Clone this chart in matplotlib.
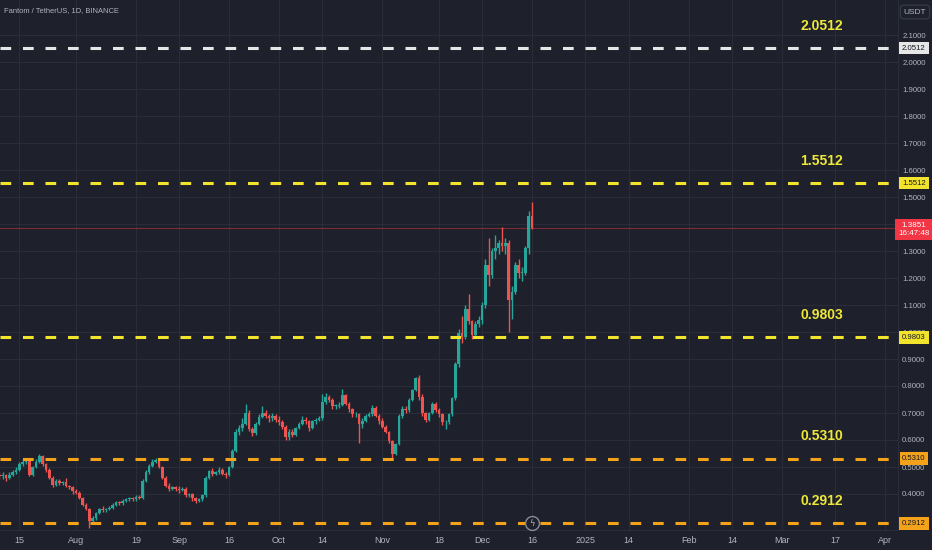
import matplotlib
matplotlib.use('Agg')
import matplotlib.pyplot as plt
import matplotlib.dates as mdates
import matplotlib.transforms as mtransforms
import numpy as np
from datetime import date, timedelta

# daily FTM/USDT candles, 9 Jul 2024 .. 16 Dec 2024
first_day = date(2024, 7, 9)

opens = [
    0.47, 0.465, 0.47, 0.46, 0.47, 0.48, 0.49, 0.51, 0.52, 0.525, 0.47, 0.50, 0.52, 0.54, 0.51, 0.49, 0.46, 0.435, 0.45, 0.44, 0.445, 0.43, 0.425,
    0.41, 0.405, 0.385, 0.36, 0.345, 0.30, 0.31, 0.33, 0.345, 0.34, 0.345, 0.35, 0.36, 0.37, 0.365, 0.375, 0.38, 0.385, 0.38, 0.39, 0.385, 0.45, 0.48, 0.505, 0.52, 0.525, 0.50, 0.46, 0.43, 0.42, 0.425,
    0.42, 0.415, 0.42, 0.395, 0.40, 0.385, 0.375, 0.38, 0.395, 0.46, 0.485, 0.475, 0.48, 0.49, 0.475, 0.47, 0.50, 0.56, 0.63, 0.645, 0.66, 0.70, 0.64, 0.625, 0.66, 0.685, 0.70, 0.69, 0.68, 0.69,
    0.675, 0.665, 0.65, 0.61, 0.63, 0.62, 0.645, 0.66, 0.675, 0.67, 0.645, 0.67, 0.675, 0.68, 0.74, 0.76, 0.75, 0.725, 0.725, 0.73, 0.765, 0.735, 0.715, 0.695, 0.695, 0.66, 0.67, 0.69, 0.695, 0.72, 0.69,
    0.67, 0.65, 0.63, 0.595, 0.55, 0.585, 0.69, 0.715, 0.71, 0.75, 0.785, 0.83, 0.76, 0.70, 0.675, 0.70, 0.735, 0.71, 0.695, 0.665, 0.665, 0.695, 0.755, 0.88, 0.995, 0.98, 1.085, 1.04, 0.99, 1.03,
    1.045, 1.10, 1.25, 1.21, 1.30, 1.31, 1.33, 1.32, 1.33, 1.12, 1.15, 1.25, 1.22, 1.22, 1.31, 1.43,
]
highs = [
    0.48, 0.48, 0.475, 0.48, 0.49, 0.50, 0.52, 0.53, 0.535, 0.53, 0.505, 0.53, 0.55, 0.545, 0.515, 0.495, 0.465, 0.455, 0.455, 0.45, 0.46, 0.435, 0.43,
    0.42, 0.41, 0.39, 0.365, 0.35, 0.32, 0.335, 0.35, 0.355, 0.35, 0.355, 0.365, 0.375, 0.375, 0.38, 0.385, 0.39, 0.39, 0.395, 0.395, 0.455, 0.49, 0.51, 0.53, 0.535, 0.53, 0.505, 0.465, 0.44, 0.43, 0.43,
    0.43, 0.425, 0.425, 0.405, 0.405, 0.39, 0.385, 0.40, 0.465, 0.49, 0.495, 0.485, 0.50, 0.495, 0.48, 0.505, 0.565, 0.64, 0.655, 0.68, 0.735, 0.71, 0.65, 0.665, 0.695, 0.725, 0.71, 0.695, 0.70, 0.695,
    0.69, 0.675, 0.655, 0.64, 0.64, 0.65, 0.665, 0.69, 0.685, 0.675, 0.675, 0.68, 0.69, 0.77, 0.775, 0.765, 0.755, 0.735, 0.74, 0.79, 0.77, 0.74, 0.72, 0.705, 0.70, 0.68, 0.695, 0.705, 0.73, 0.725, 0.695,
    0.68, 0.655, 0.635, 0.60, 0.59, 0.695, 0.725, 0.725, 0.755, 0.79, 0.835, 0.84, 0.77, 0.705, 0.705, 0.74, 0.74, 0.72, 0.70, 0.675, 0.70, 0.76, 0.89, 1.01, 1.06, 1.10, 1.14, 1.045, 1.04, 1.06,
    1.11, 1.27, 1.35, 1.31, 1.36, 1.34, 1.39, 1.35, 1.34, 1.17, 1.26, 1.27, 1.24, 1.32, 1.45, 1.48,
]
lows = [
    0.455, 0.455, 0.45, 0.455, 0.465, 0.475, 0.485, 0.505, 0.51, 0.465, 0.465, 0.495, 0.515, 0.505, 0.48, 0.455, 0.425, 0.43, 0.435, 0.435, 0.425, 0.42, 0.40,
    0.40, 0.38, 0.355, 0.34, 0.274, 0.29, 0.305, 0.325, 0.335, 0.335, 0.34, 0.345, 0.355, 0.36, 0.36, 0.37, 0.375, 0.375, 0.375, 0.38, 0.38, 0.445, 0.475, 0.50, 0.515, 0.495, 0.455, 0.425, 0.41, 0.415, 0.41,
    0.405, 0.41, 0.39, 0.39, 0.375, 0.365, 0.37, 0.375, 0.39, 0.455, 0.465, 0.47, 0.475, 0.47, 0.46, 0.465, 0.495, 0.555, 0.62, 0.635, 0.655, 0.635, 0.615, 0.62, 0.655, 0.68, 0.68, 0.665, 0.67, 0.665,
    0.655, 0.64, 0.60, 0.60, 0.61, 0.615, 0.64, 0.655, 0.66, 0.635, 0.64, 0.66, 0.67, 0.675, 0.735, 0.74, 0.715, 0.715, 0.72, 0.725, 0.73, 0.705, 0.685, 0.685, 0.59, 0.645, 0.665, 0.685, 0.69, 0.685, 0.66,
    0.645, 0.625, 0.59, 0.535, 0.545, 0.58, 0.68, 0.70, 0.705, 0.745, 0.78, 0.75, 0.69, 0.665, 0.67, 0.695, 0.705, 0.685, 0.655, 0.64, 0.66, 0.69, 0.75, 0.87, 0.96, 0.975, 1.03, 0.975, 0.985, 1.02,
    1.03, 1.09, 1.17, 1.20, 1.27, 1.29, 1.30, 1.29, 1.00, 1.05, 1.14, 1.20, 1.19, 1.21, 1.29, 1.38,
]
closes = [
    0.465, 0.47, 0.46, 0.47, 0.48, 0.49, 0.51, 0.52, 0.525, 0.47, 0.50, 0.52, 0.54, 0.51, 0.49, 0.46, 0.435, 0.45, 0.44, 0.445, 0.43, 0.425, 0.41,
    0.405, 0.385, 0.36, 0.345, 0.30, 0.31, 0.33, 0.345, 0.34, 0.345, 0.35, 0.36, 0.37, 0.365, 0.375, 0.38, 0.385, 0.38, 0.39, 0.385, 0.45, 0.48, 0.505, 0.52, 0.525, 0.50, 0.46, 0.43, 0.42, 0.425, 0.42,
    0.415, 0.42, 0.395, 0.40, 0.385, 0.375, 0.38, 0.395, 0.46, 0.485, 0.475, 0.48, 0.49, 0.475, 0.47, 0.50, 0.56, 0.63, 0.645, 0.66, 0.70, 0.64, 0.625, 0.66, 0.685, 0.70, 0.69, 0.68, 0.69, 0.675,
    0.665, 0.65, 0.61, 0.63, 0.62, 0.645, 0.66, 0.675, 0.67, 0.645, 0.67, 0.675, 0.68, 0.74, 0.76, 0.75, 0.725, 0.725, 0.73, 0.765, 0.735, 0.715, 0.695, 0.695, 0.66, 0.67, 0.69, 0.695, 0.72, 0.69, 0.67,
    0.65, 0.63, 0.595, 0.55, 0.585, 0.69, 0.715, 0.71, 0.75, 0.785, 0.83, 0.76, 0.70, 0.675, 0.70, 0.735, 0.71, 0.695, 0.665, 0.665, 0.695, 0.755, 0.88, 0.995, 0.98, 1.085, 1.04, 0.99, 1.03, 1.045,
    1.10, 1.25, 1.21, 1.30, 1.31, 1.33, 1.32, 1.33, 1.12, 1.15, 1.25, 1.22, 1.22, 1.31, 1.43, 1.3851,
]

last_price = 1.3851
countdown = '16:47:48'

# horizontal levels drawn on the chart
levels = [2.0512, 1.5512, 0.9803, 0.5310, 0.2912]
level_colors = ['#e6e6e6', '#f2e42c', '#f2e42c', '#f5a21b', '#f5a21b']

tick_dates = [date(2024, 7, 15), date(2024, 8, 1), date(2024, 8, 19), date(2024, 9, 1), date(2024, 9, 16),
              date(2024, 10, 1), date(2024, 10, 14), date(2024, 11, 1), date(2024, 11, 18), date(2024, 12, 1),
              date(2024, 12, 16), date(2025, 1, 1), date(2025, 1, 14), date(2025, 2, 1), date(2025, 2, 14),
              date(2025, 3, 1), date(2025, 3, 17), date(2025, 4, 1)]
tick_labels = ['15', 'Aug', '19', 'Sep', '16', 'Oct', '14', 'Nov', '18', 'Dec', '16', '2025', '14', 'Feb', '14', 'Mar', '17', 'Apr']

price_ticks = [0.4, 0.5, 0.6, 0.7, 0.8, 0.9, 1.0, 1.1, 1.2, 1.3, 1.4, 1.5, 1.6, 1.7, 1.8, 1.9, 2.0, 2.1]

bg = '#1e212b'
grid_c = '#2a2d38'
txt_c = '#b2b5be'
up_c = '#26a69a'
down_c = '#ef5350'
fam = ['Liberation Sans', 'DejaVu Sans']

plt.rcParams['lines.scale_dashes'] = False
W, H = 932, 550
fig = plt.figure(figsize=(W / 100, H / 100), dpi=100, facecolor=bg)
ax = fig.add_axes([0, 20 / H, 898 / W, 530 / H], facecolor=bg)

x = mdates.date2num([first_day + timedelta(days=i) for i in range(len(closes))])
o = np.array(opens)
h = np.array(highs)
l = np.array(lows)
c = np.array(closes)
cols = np.where(c >= o, up_c, down_c)

ax.vlines(x, l, h, colors=cols, linewidth=1, zorder=3)
body_lo = np.minimum(o, c)
body_h = np.maximum(np.abs(c - o), 0.003)
ax.bar(x, body_h, bottom=body_lo, width=0.8, color=cols, linewidth=0, zorder=4)

# level lines + labels
for lv, col in zip(levels, level_colors):
    ax.axhline(lv, color=col, linewidth=2.2, dashes=(7.7, 8.5), dash_capstyle='butt', zorder=5)
    ax.annotate('%.4f' % lv, xy=(mdates.date2num(date(2025, 3, 13)), lv), xytext=(0, 16),
                textcoords='offset points', ha='center', va='center', color='#eee83a',
                fontsize=10, fontweight='bold', family=fam, zorder=6)

# last price line
ax.axhline(last_price, color='#f23645', linewidth=0.8, alpha=0.45, zorder=2)

x0 = mdates.date2num(date(2024, 7, 15))
ax.set_xlim(x0 - 5.8, x0 + 263.9)
y_top = 602 / 270
y_bot = (602 - 530) / 270
ax.set_ylim(y_bot, y_top)

ax.set_xticks(mdates.date2num(tick_dates))
ax.set_xticklabels(tick_labels)
ax.yaxis.tick_right()
ax.set_yticks(price_ticks)
ax.set_yticklabels(['%.4f' % t for t in price_ticks])
ax.tick_params(axis='x', length=0, colors=txt_c, labelsize=6.5, pad=4)
ax.tick_params(axis='y', length=0, colors=txt_c, labelsize=5.6, pad=3)
for lab in ax.get_xticklabels() + ax.get_yticklabels():
    lab.set_family(fam)
ax.grid(True, color=grid_c, linewidth=0.8, zorder=0)
ax.set_axisbelow(True)
for s in ['top', 'left']:
    ax.spines[s].set_visible(False)
ax.spines['right'].set_color('#2a2e39')
ax.spines['bottom'].set_color('#2a2e39')

# price-scale boxes
tr = mtransforms.blended_transform_factory(fig.transFigure, ax.transData)
xb = 914 / W
box_fill = ['#e6e6e6', '#f2e42c', '#f2e42c', '#f5a21b', '#f5a21b']
for lv, col in zip(levels, box_fill):
    ax.text(xb, lv, '%.4f' % lv, transform=tr, ha='center', va='center', fontsize=5.6,
            color='#131722', family=fam, clip_on=False, zorder=10,
            bbox=dict(boxstyle='square,pad=0.35', fc=col, ec='none'))
ax.text(xb, last_price + 0.024, '%.4f\n%s' % (last_price, countdown), transform=tr, ha='center', va='top',
        fontsize=5.8, color='white', linespacing=1.3, family=fam,
        clip_on=False, zorder=10, bbox=dict(boxstyle='square,pad=0.35', fc='#f23645', ec='none'))

# USDT box
fig.text(915 / W, 1 - 12 / H, 'USDT', ha='center', va='center', fontsize=6, color=txt_c,
         family=fam, bbox=dict(boxstyle='round,pad=0.4', fc=bg, ec='#3a3e4a', lw=0.8))

# title
fig.text(4 / W, 1 - 11 / H, 'Fantom / TetherUS, 1D, BINANCE', ha='left', va='center', fontsize=5.4,
         color=txt_c, family=fam)

# small event icon on the time axis
ax.plot([mdates.date2num(date(2024, 12, 16))], [0.2912], marker='o', markersize=10, mfc=bg,
        mec='#8a8d96', mew=1, zorder=7, clip_on=False)
ax.text(mdates.date2num(date(2024, 12, 16)), 0.2912, 'ϟ', ha='center', va='center', fontsize=6,
        color='#b2b5be', zorder=8)

fig.savefig('out.png', dpi=100, facecolor=bg)
